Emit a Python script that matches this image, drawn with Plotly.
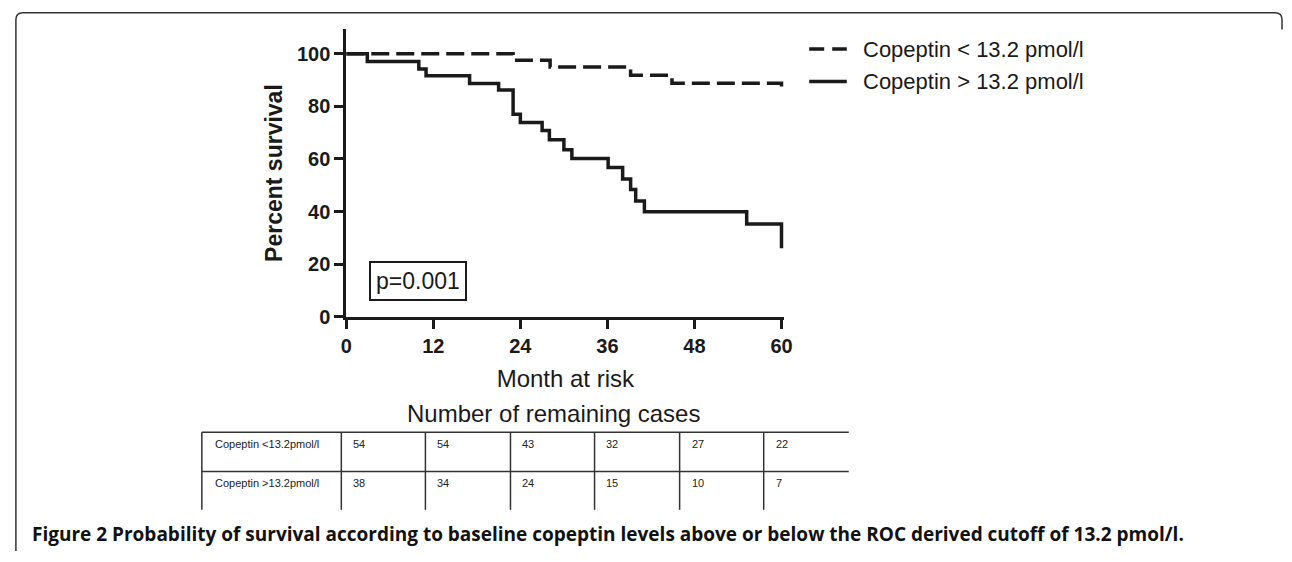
import plotly.graph_objects as go

W, H = 1292, 562

# ---- data ----
low_label = "Copeptin < 13.2 pmol/l"
high_label = "Copeptin > 13.2 pmol/l"
low_months = [0, 23.0, 28.1, 39.2, 44.9, 60, 60]
low_surv = [100, 97.6, 95.0, 91.9, 88.8, 88.8, 86.3]
high_months = [0, 2.9, 10.0, 11.0, 17.0, 21.0, 23.0, 24.0, 27.0, 28.0, 30.0, 31.1,
               36.1, 38.1, 39.2, 39.9, 41.1, 55.2, 60, 60]
high_surv = [100, 97.1, 94.2, 91.7, 88.7, 86.2, 77.0, 73.9, 70.8, 67.3, 63.5, 60.2,
             56.8, 52.4, 48.4, 44.0, 39.9, 35.3, 35.3, 26.0]
x_ticks = [0, 12, 24, 36, 48, 60]
y_ticks = [0, 20, 40, 60, 80, 100]
table_rows = ["Copeptin <13.2pmol/l", "Copeptin >13.2pmol/l"]
low_at_risk = [54, 54, 43, 32, 27, 22]
high_at_risk = [38, 34, 24, 15, 10, 7]
p_text = "p=0.001"
caption = ("<b>Figure 2 Probability of survival according to baseline copeptin levels "
           "above or below the ROC derived cutoff of 13.2 pmol/l.</b>")


def px(x):
    return x / W


def py(y):
    return 1 - y / H


FONT = "Liberation Sans, Arial, sans-serif"
INK = "#1a1a1a"

fig = go.Figure()
fig.add_trace(go.Scatter(x=low_months, y=low_surv, mode="lines", name=low_label,
                         line=dict(shape="hv", color=INK, width=3.5, dash="18px,7px"),
                         showlegend=False))
fig.add_trace(go.Scatter(x=high_months, y=high_surv, mode="lines", name=high_label,
                         line=dict(shape="hv", color=INK, width=3.5),
                         showlegend=False))

shapes = []
annotations = []

# manual legend
for i, (lab, dash) in enumerate([(low_label, "15px,8px"), (high_label, "solid")]):
    yy = 50 + i * 33
    shapes.append(dict(type="line", xref="paper", yref="paper",
                       x0=px(812), x1=px(850), y0=py(yy), y1=py(yy),
                       line=dict(color=INK, width=3.5, dash=dash)))
    annotations.append(dict(xref="paper", yref="paper", x=px(864), y=py(yy),
                            xanchor="left", yanchor="middle", showarrow=False,
                            text=lab, font=dict(family=FONT, size=22, color=INK)))

# p-value box
annotations.append(dict(xref="paper", yref="paper", x=px(416.5), y=py(286.5),
                        xanchor="center", yanchor="middle", showarrow=False,
                        text=p_text, font=dict(family=FONT, size=23, color=INK),
                        bordercolor=INK, borderwidth=2, borderpad=5, bgcolor="white"))

# at-risk table
annotations.append(dict(xref="paper", yref="paper", x=px(553), y=py(422),
                        xanchor="center", yanchor="middle", showarrow=False,
                        text="Number of remaining cases",
                        font=dict(family=FONT, size=24, color=INK)))
tab_top, tab_mid, tab_bot = 441, 481, 520
col_x = [198, 339, 424, 510, 595, 681, 766]
tab_right = 852
for yy in (tab_top, tab_mid):
    shapes.append(dict(type="line", xref="paper", yref="paper",
                       x0=px(col_x[0]), x1=px(tab_right), y0=py(yy), y1=py(yy),
                       line=dict(color="#333333", width=1.5)))
for xx in col_x:
    shapes.append(dict(type="line", xref="paper", yref="paper",
                       x0=px(xx), x1=px(xx), y0=py(tab_top), y1=py(tab_bot),
                       line=dict(color="#333333", width=1.5)))
for r, (lab, vals) in enumerate(zip(table_rows, [low_at_risk, high_at_risk])):
    yy = 453 + r * 40
    annotations.append(dict(xref="paper", yref="paper", x=px(col_x[0] + 11), y=py(yy),
                            xanchor="left", yanchor="middle", showarrow=False,
                            text=lab, font=dict(family=FONT, size=11, color="#222")))
    for c, v in enumerate(vals):
        annotations.append(dict(xref="paper", yref="paper", x=px(col_x[c + 1] + 10),
                                y=py(yy), xanchor="left", yanchor="middle",
                                showarrow=False, text=str(v),
                                font=dict(family=FONT, size=11, color="#222")))

# caption
annotations.append(dict(xref="paper", yref="paper", x=px(24), y=py(545),
                        xanchor="left", yanchor="middle", showarrow=False,
                        text=caption,
                        font=dict(family="Open Sans, sans-serif", size=19, color="#111")))

# outer rounded frame
path = (f"M {px(10)},{py(562)} L {px(10)},{py(20)} "
        f"Q {px(10)},{py(13)} {px(17)},{py(13)} L {px(1283)},{py(13)} "
        f"Q {px(1290)},{py(13)} {px(1290)},{py(20)} L {px(1290)},{py(30)}")
shapes.append(dict(type="path", xref="paper", yref="paper", path=path,
                   line=dict(color="#333333", width=1.5)))

x_px_per = (784 - 344) / 60
x_max = 60.4
fig.update_layout(
    width=W, height=H,
    margin=dict(l=0, r=0, t=0, b=0),
    paper_bgcolor="white", plot_bgcolor="white",
    shapes=shapes, annotations=annotations,
    xaxis=dict(domain=[px(344), px(344 + x_max * x_px_per)], range=[0, x_max],
               tickvals=x_ticks, ticks="outside", ticklen=9, tickwidth=3,
               tickcolor=INK, showline=True, linewidth=3, linecolor=INK,
               showgrid=False, zeroline=False,
               tickfont=dict(family=FONT, size=20, color=INK, weight="bold"),
               title=dict(text="Month at risk", standoff=15,
                          font=dict(family=FONT, size=24, color=INK))),
    yaxis=dict(domain=[py(323), py(30)], range=[0, 109.3],
               tickvals=y_ticks, ticks="outside", ticklen=9, tickwidth=3,
               tickcolor=INK, showline=True, linewidth=3, linecolor=INK,
               showgrid=False, zeroline=False,
               tickfont=dict(family=FONT, size=20, color=INK, weight="bold"),
               title=dict(text="Percent survival", standoff=8,
                          font=dict(family=FONT, size=23, color=INK, weight="bold"))),
)

fig.write_html("out.html", config={"displayModeBar": False},
               post_script="document.body.style.margin='0px';")
